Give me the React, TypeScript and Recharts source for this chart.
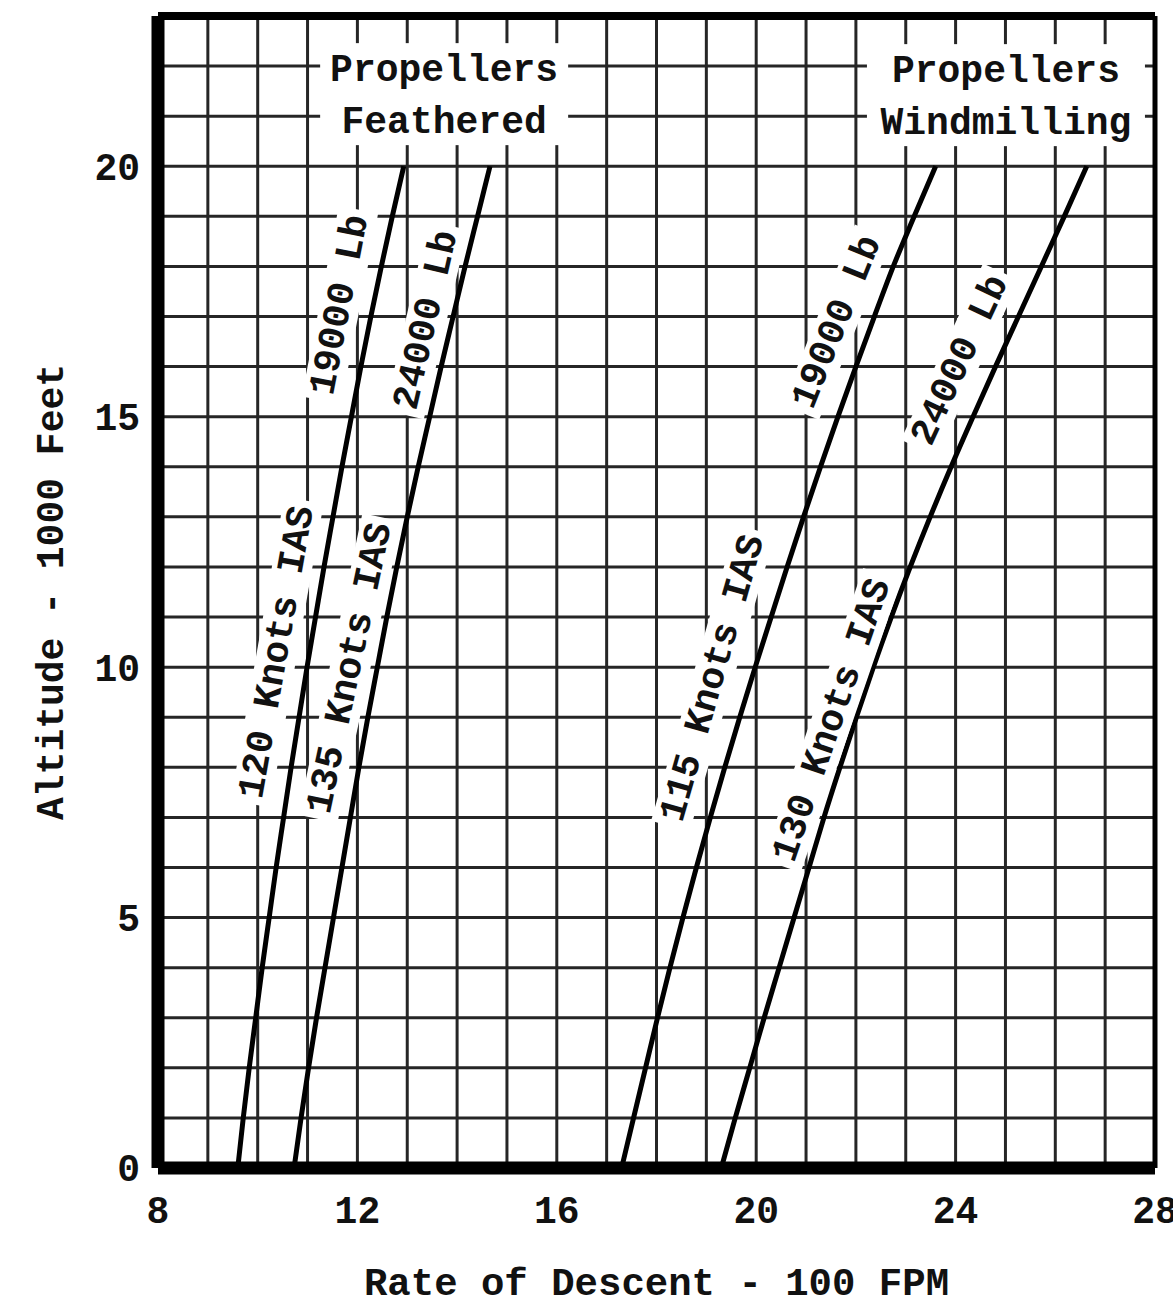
import React from "react";
import { LineChart, Line, XAxis, YAxis, CartesianGrid, ReferenceLine, ReferenceDot } from "recharts";

const FONT = '"Liberation Mono", "DejaVu Sans Mono", monospace';

// altitude in 1000 ft, rate of descent in 100 fpm
const altitude = [0, 1, 2, 3, 4, 5, 6, 7, 8, 9, 10, 11, 12, 13, 14, 15, 16, 17, 18, 19, 20];
const feathered19000 = [9.6, 9.71, 9.83, 9.96, 10.09, 10.23, 10.37, 10.52, 10.67, 10.83, 10.99, 11.16, 11.33, 11.51, 11.69, 11.88, 12.07, 12.27, 12.48, 12.7, 12.93];
const feathered24000 = [10.73, 10.87, 11.02, 11.18, 11.35, 11.52, 11.69, 11.86, 12.03, 12.21, 12.4, 12.59, 12.79, 13.0, 13.22, 13.45, 13.68, 13.92, 14.16, 14.41, 14.66];
const windmilling19000 = [17.3, 17.54, 17.78, 18.02, 18.27, 18.53, 18.8, 19.08, 19.37, 19.67, 19.98, 20.3, 20.62, 20.95, 21.29, 21.64, 22.0, 22.37, 22.75, 23.17, 23.6];
const windmilling24000 = [19.3, 19.58, 19.87, 20.16, 20.46, 20.76, 21.06, 21.36, 21.68, 22.01, 22.35, 22.71, 23.09, 23.49, 23.91, 24.35, 24.8, 25.26, 25.72, 26.18, 26.63];

const xTicks = [8, 9, 10, 11, 12, 13, 14, 15, 16, 17, 18, 19, 20, 21, 22, 23, 24, 25, 26, 27, 28];
const yTicks = [0, 1, 2, 3, 4, 5, 6, 7, 8, 9, 10, 11, 12, 13, 14, 15, 16, 17, 18, 19, 20, 21, 22, 23];
const xLabels = [8, 12, 16, 20, 24, 28];
const yLabels = [0, 5, 10, 15, 20];

const curveLabels = [
  { text: "120 Knots IAS", x: 10.39, y: 10.3, angle: -80 },
  { text: "19000 Lb", x: 11.65, y: 17.23, angle: -79 },
  { text: "135 Knots IAS", x: 11.85, y: 9.98, angle: -78 },
  { text: "24000 Lb", x: 13.38, y: 16.93, angle: -77 },
  { text: "115 Knots IAS", x: 19.13, y: 9.78, angle: -74 },
  { text: "19000 Lb", x: 21.62, y: 16.89, angle: -68 },
  { text: "130 Knots IAS", x: 21.52, y: 8.94, angle: -71 },
  { text: "24000 Lb", x: 24.09, y: 16.13, angle: -65 },
];

const blockLabels = [
  { lines: ["Propellers", "Feathered"], x: 13.74, y: 21.44, w: 248 },
  { lines: ["Propellers", "Windmilling"], x: 25.01, y: 21.42, w: 278 },
];

const toPoints = (xs: number[]) => altitude.map((y, i) => ({ x: xs[i], y }));

function CurveLabel({ cx, cy, text, angle }: any) {
  const w = text.length * 22.8 + 12;
  const h = 40;
  return (
    <g transform={`translate(${cx},${cy}) rotate(${angle})`}>
      <rect x={-w / 2} y={-h / 2} width={w} height={h} fill="#fff" />
      <text x={0} y={0} textAnchor="middle" dominantBaseline="central" fontFamily={FONT} fontWeight="bold" fontSize={38} fill="#111">
        {text}
      </text>
    </g>
  );
}

function BlockLabel({ cx, cy, lines, w }: any) {
  return (
    <g>
      <rect x={cx - w / 2} y={cy - 51} width={w} height={102} fill="#fff" />
      {lines.map((t: string, i: number) => (
        <text key={t} x={cx} y={cy + (i === 0 ? -24 : 28)} textAnchor="middle" dominantBaseline="central" fontFamily={FONT} fontWeight="bold" fontSize={38} fill="#111">
          {t}
        </text>
      ))}
    </g>
  );
}

const tickStyle = { fontFamily: FONT, fontWeight: "bold", fontSize: 38, fill: "#111" };

export default function App() {
  return (
    <div style={{ width: 1173, height: 1309, background: "#fff" }}>
      <style>{"body{margin:0}"}</style>
      <LineChart width={1173} height={1309} margin={{ top: 16, right: 18, bottom: 0, left: 10 }}>
        <CartesianGrid stroke="#262626" strokeWidth={3} />
        <XAxis
          type="number"
          dataKey="x"
          domain={[8, 28]}
          ticks={xTicks}
          interval={0}
          allowDataOverflow
          height={141}
          tickLine={false}
          tickSize={10}
          tickMargin={18}
          tick={tickStyle}
          tickFormatter={(v: number) => (xLabels.includes(v) ? String(v) : "")}
          axisLine={{ stroke: "#000", strokeWidth: 13 }}
          label={{ value: "Rate of Descent - 100 FPM", position: "insideBottom", offset: 14, style: { ...tickStyle, fontSize: 39 } }}
        />
        <YAxis
          type="number"
          dataKey="y"
          domain={[0, 23]}
          ticks={yTicks}
          interval={0}
          allowDataOverflow
          width={148}
          tickLine={false}
          tickSize={10}
          tickMargin={8}
          tick={tickStyle}
          tickFormatter={(v: number) => (yLabels.includes(v) ? String(v) : "")}
          axisLine={{ stroke: "#000", strokeWidth: 13 }}
          label={{ value: "Altitude - 1000 Feet", angle: -90, position: "insideLeft", offset: 40, style: { ...tickStyle, textAnchor: "middle" } }}
        />
        {blockLabels.map((b, i) => (
          <ReferenceDot key={`b${i}`} x={b.x} y={b.y} r={1} ifOverflow="visible" shape={(p: any) => <BlockLabel cx={p.cx} cy={p.cy} lines={b.lines} w={b.w} />} />
        ))}
        {curveLabels.map((c, i) => (
          <ReferenceDot key={`c${i}`} x={c.x} y={c.y} r={1} ifOverflow="visible" shape={(p: any) => <CurveLabel cx={p.cx} cy={p.cy} text={c.text} angle={c.angle} />} />
        ))}
        <ReferenceLine y={23} stroke="#000" strokeWidth={8} />
        <ReferenceLine x={28} stroke="#000" strokeWidth={5} />
        <Line data={toPoints(feathered19000)} dataKey="y" type="monotone" stroke="#000" strokeWidth={5} dot={false} isAnimationActive={false} />
        <Line data={toPoints(feathered24000)} dataKey="y" type="monotone" stroke="#000" strokeWidth={5} dot={false} isAnimationActive={false} />
        <Line data={toPoints(windmilling19000)} dataKey="y" type="monotone" stroke="#000" strokeWidth={5} dot={false} isAnimationActive={false} />
        <Line data={toPoints(windmilling24000)} dataKey="y" type="monotone" stroke="#000" strokeWidth={5} dot={false} isAnimationActive={false} />
      </LineChart>
    </div>
  );
}
